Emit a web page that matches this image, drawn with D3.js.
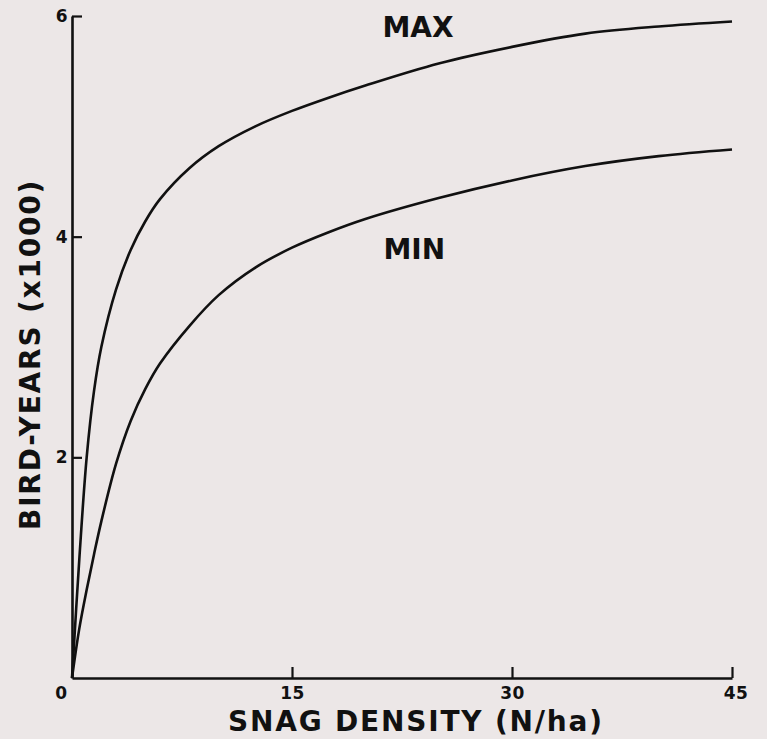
<!DOCTYPE html>
<html>
<head>
<meta charset="utf-8">
<script src="https://cdn.jsdelivr.net/npm/d3@7"></script>
<style>
  html, body { margin: 0; padding: 0; background: #ece7e7; }
  svg { display: block; }
  text { font-family: "DejaVu Sans", Verdana, sans-serif; font-weight: bold; fill: #111; }
</style>
</head>
<body>
<svg id="chart" width="767" height="739"></svg>
<script>
// Snag density (N/ha) at which each curve is sampled
const density = [0, 0.5, 1, 1.5, 2, 3, 4, 5, 6, 8, 10, 12.5, 15, 17.5, 20, 25, 30, 35, 40, 45];
// Bird-years (x1000), upper bound
const maxValues = [0, 1.08, 2.0, 2.6, 3.0, 3.52, 3.88, 4.14, 4.34, 4.62, 4.82, 5.0, 5.14, 5.26, 5.37, 5.57, 5.72, 5.84, 5.905, 5.95];
// Bird-years (x1000), lower bound
const minValues = [0, 0.45, 0.8, 1.12, 1.42, 1.94, 2.33, 2.62, 2.85, 3.19, 3.47, 3.72, 3.9, 4.04, 4.16, 4.35, 4.51, 4.64, 4.73, 4.79];

const xTicks = [0, 15, 30, 45];
const yTicks = [2, 4, 6];
const seriesLabels = ["MAX", "MIN"];
const xTitle = "SNAG DENSITY (N/ha)";
const yTitle = "BIRD-YEARS (x1000)";

const svg = d3.select("#chart");
const x = d3.scaleLinear().domain([0, 45]).range([72, 732]);
const y = d3.scaleLinear().domain([0, 6]).range([678, 16]);

// Axes: ticks point inward, labels sit outside
const xAxis = svg.append("g")
  .attr("transform", `translate(0,${y(0)})`)
  .call(d3.axisBottom(x).tickValues(xTicks).tickSize(-11).tickSizeOuter(0).tickPadding(9).tickFormat(d3.format("d")));
const yAxis = svg.append("g")
  .attr("transform", `translate(${x(0)},0)`)
  .call(d3.axisLeft(y).tickValues(yTicks).tickSize(-10).tickSizeOuter(0).tickPadding(4).tickFormat(d3.format("d")));

[xAxis, yAxis].forEach(g => {
  g.select(".domain").attr("stroke", "#111").attr("stroke-width", 2.6);
  g.selectAll(".tick line").attr("stroke", "#111").attr("stroke-width", 2.2);
  g.selectAll(".tick text")
    .style("font-size", "17px").style("font-weight", "bold")
    .style("font-family", "'DejaVu Sans', Verdana, sans-serif")
    .style("letter-spacing", "0.5px")
    .attr("fill", "#111");
});
// The origin label sits to the left of the corner
xAxis.selectAll(".tick").filter(d => d === 0).select("text").attr("dx", -11);
xAxis.selectAll(".tick").filter(d => d === 0).select("line").remove();
xAxis.selectAll(".tick").filter(d => d === 45).select("text").attr("dx", 3.5);

// Curves
const line = d3.line().x((d, i) => x(density[i])).y(d => y(d)).curve(d3.curveCatmullRom.alpha(0.5));
[maxValues, minValues].forEach(vals => {
  svg.append("path")
    .datum(vals)
    .attr("d", line)
    .attr("fill", "none")
    .attr("stroke", "#111")
    .attr("stroke-width", 2.6)
    .attr("stroke-linejoin", "round");
});

// Curve labels
svg.append("text").attr("x", 382.5).attr("y", 37)
  .style("font-size", "28px").text(seriesLabels[0]);
svg.append("text").attr("x", 383.5).attr("y", 259)
  .style("font-size", "28px").text(seriesLabels[1]);

// Axis titles
svg.append("text").attr("x", 228).attr("y", 731)
  .style("font-size", "28px").style("letter-spacing", "1.8px").text(xTitle);
svg.append("text")
  .attr("transform", "translate(40,530) rotate(-90)")
  .style("font-size", "28px").style("letter-spacing", "1.8px").text(yTitle);
</script>
</body>
</html>
